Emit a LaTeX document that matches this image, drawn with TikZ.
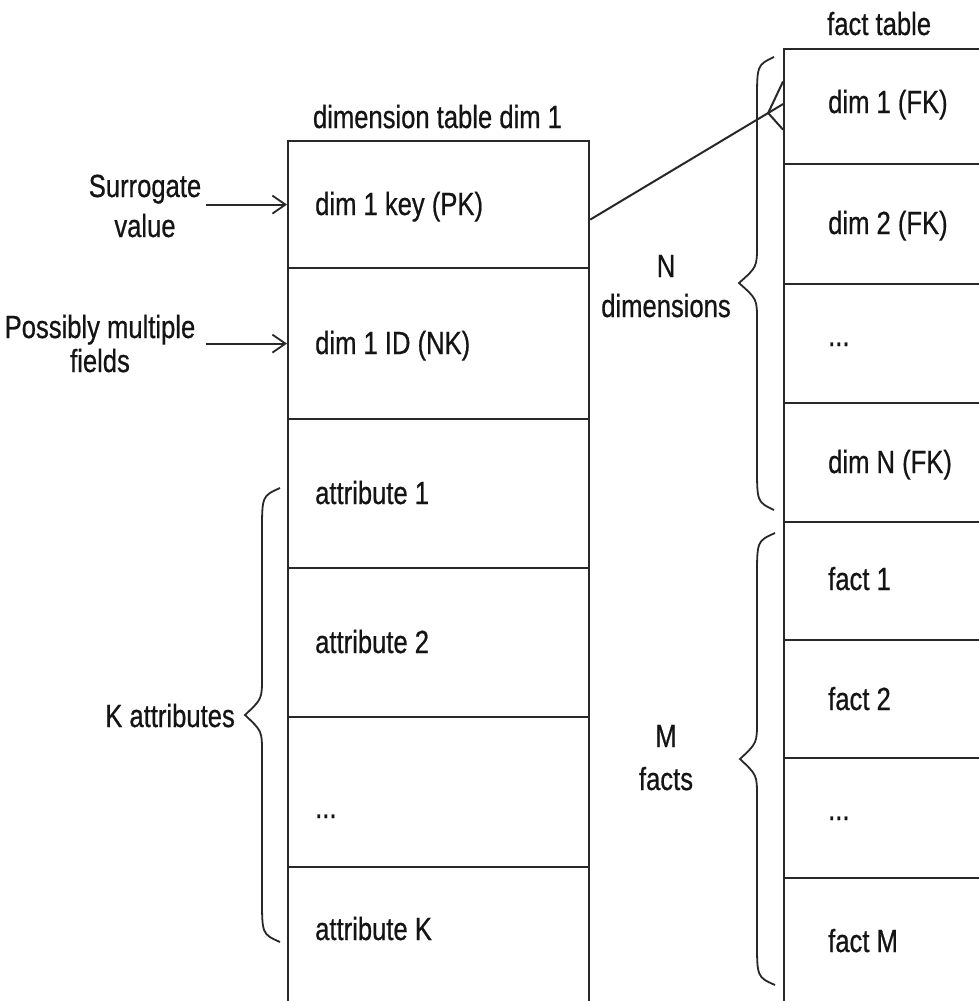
\documentclass[tikz,border=0pt]{standalone}
\usepackage{fontspec}
\setmainfont{Liberation Sans}[FakeStretch=0.80,FakeBold=0.6]
\usetikzlibrary{arrows.meta}

\definecolor{linecol}{RGB}{40,40,40}
\definecolor{txtcol}{RGB}{20,20,20}

% curly brace opening to the left: end x, spine x, tip x, top y, tip y, bottom y
\newcommand\curlybrace[6]{%
  \draw[brace] (#1,#4) .. controls (#2,#4+8) .. (#2,#4+45)
    -- (#2,#5-38) .. controls (#2,#5-16) .. (#3,#5)
    .. controls (#2,#5+16) .. (#2,#5+38)
    -- (#2,#6-45) .. controls (#2,#6-8) .. (#1,#6);}

\begin{document}
\begin{tikzpicture}[x=1pt,y=-1pt,
  cell/.style={draw=linecol, line width=2.2pt, rectangle, inner sep=0pt,
    anchor=north west, minimum width=#1},
  dimcell/.style={cell=301pt},
  factcell/.style={cell=240pt},
  txt/.style={anchor=base west, inner sep=0pt, text=txtcol,
    font=\fontsize{32}{40}\selectfont},
  lbl/.style={align=center, inner sep=0pt, text=txtcol,
    font=\fontsize{32}{40}\selectfont},
  brace/.style={draw=linecol, line width=1.8pt},
  arr/.style={draw=linecol, line width=2.2pt,
    -{Straight Barb[length=13pt,width=18pt,line width=1.8pt]}},
  conn/.style={draw=linecol, line width=2pt}]

\clip (0,0) rectangle (979,1001);
\fill[white] (0,0) rectangle (979,1001);

% dimension table
\node[txt, anchor=base] (dimtitle) at (437.5,128) {dimension table dim 1};
\node[dimcell, minimum height=127pt] (pk)  at (287,140) {};
\node[dimcell, minimum height=151pt] (nk)  at (287,267) {};
\node[dimcell, minimum height=149pt] (at1) at (287,418) {};
\node[dimcell, minimum height=149pt] (at2) at (287,567) {};
\node[dimcell, minimum height=150pt] (atd) at (287,716) {};
\node[dimcell, minimum height=160pt] (atk) at (287,866) {};

\node[txt] (pkt)  at (315,215) {dim 1 key (PK)};
\node[txt] (nkt)  at (315,354) {dim 1 ID (NK)};
\node[txt] (at1t) at (315,504) {attribute 1};
\node[txt] (at2t) at (315,653) {attribute 2};
\node[txt] (atdt) at (315,818) {...};
\node[txt] (atkt) at (315,940) {attribute K};

% fact table
\node[txt] (facttitle) at (827,35) {fact table};
\node[factcell, minimum height=115pt] (fk1) at (783,48)  {};
\node[factcell, minimum height=120pt] (fk2) at (783,163) {};
\node[factcell, minimum height=119pt] (fkd) at (783,283) {};
\node[factcell, minimum height=119pt] (fkn) at (783,402) {};
\node[factcell, minimum height=118pt] (f1)  at (783,521) {};
\node[factcell, minimum height=118pt] (f2)  at (783,639) {};
\node[factcell, minimum height=120pt] (fd)  at (783,757) {};
\node[factcell, minimum height=140pt] (fm)  at (783,877) {};

\node[txt] (fk1t) at (828,113) {dim 1 (FK)};
\node[txt] (fk2t) at (828,234) {dim 2 (FK)};
\node[txt] (fkdt) at (828,346) {...};
\node[txt] (fknt) at (828,473) {dim N (FK)};
\node[txt] (f1t)  at (828,590) {fact 1};
\node[txt] (f2t)  at (828,710) {fact 2};
\node[txt] (fdt)  at (828,820) {...};
\node[txt] (fmt)  at (828,952) {fact M};

% side labels (base anchor sits on the last line)
\node[lbl, anchor=base] (surr)  at (145,237) {Surrogate\\value};
\node[lbl, anchor=base] (multi) at (100,372) {Possibly multiple\\[-6pt]fields};
\node[lbl, anchor=base east] (katt) at (235,727) {K attributes};
\node[lbl, anchor=base] (ndim)  at (666,317) {N\\dimensions};
\node[lbl, anchor=base] (mfact) at (666,790) {M\\[3pt]facts};

% arrows into the key rows
\draw[arr] ([xshift=5pt]pk.west -| surr.east) -- (pk.west);
\draw[arr] ([xshift=10pt]nk.west -| multi.east) -- (nk.west);

% one-to-many link from the dimension key to the fact foreign key
\draw[conn] ([yshift=-15pt]pk.east) -- coordinate[pos=0.923] (crow) ([yshift=2.5pt]fk1.west);
\draw[conn] (crow) -- ([yshift=25pt]fk1.west);
\draw[conn] (crow) -- ([yshift=-23pt]fk1.west);

% braces
\curlybrace{280}{262}{245}{488}{715}{942}
\curlybrace{774}{757}{739}{57}{283}{510}
\curlybrace{775}{757}{740}{533}{759}{985}
\end{tikzpicture}
\end{document}
